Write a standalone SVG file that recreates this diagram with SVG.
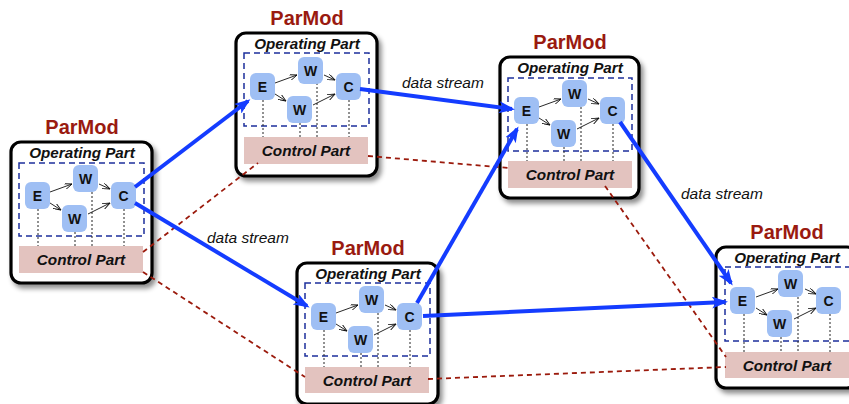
<svg xmlns="http://www.w3.org/2000/svg" width="849" height="404" viewBox="0 0 849 404">
  <style>
    .box { fill: #ffffff; stroke: #000000; stroke-width: 3.2; filter: url(#shadow); }
    .title { font-family: "Liberation Sans", Arial, sans-serif; font-weight: bold; font-size: 20px; fill: #9a1a10; text-anchor: middle; }
    .op { font-family: "Liberation Sans", Arial, sans-serif; font-weight: bold; font-style: italic; font-size: 15.2px; fill: #111111; text-anchor: middle; }
    .area { fill: none; stroke: #1c2f9c; stroke-width: 1.5; stroke-dasharray: 6 4; }
    .tap { stroke: #222222; stroke-width: 1; stroke-dasharray: 2 2; }
    .ctl { fill: #e3c3bf; }
    .ctl-t { font-family: "Liberation Sans", Arial, sans-serif; font-weight: bold; font-style: italic; font-size: 15.3px; fill: #111111; text-anchor: middle; }
    .node { fill: #9fbff4; }
    .lbl { font-family: "Liberation Sans", Arial, sans-serif; font-weight: bold; font-size: 14px; fill: #111111; text-anchor: middle; }
    .inner { stroke: #111111; stroke-width: 0.9; fill: none; marker-end: url(#open); }
    .flow { stroke: #143cff; stroke-width: 4; fill: none; marker-end: url(#barb); }
    .ctrl-link { stroke: #9b1a0c; stroke-width: 1.8; stroke-dasharray: 5 4; fill: none; }
    .ds { font-family: "Liberation Sans", Arial, sans-serif; font-style: italic; font-size: 15.5px; fill: #111111; }
  </style>
  <defs>
    <filter id="shadow" x="-10%" y="-10%" width="125%" height="125%">
      <feDropShadow dx="3" dy="4" stdDeviation="2.5" flood-color="#000000" flood-opacity="0.45"/>
    </filter>
    <marker id="barb" viewBox="0 0 16 12" refX="13" refY="6" markerWidth="16" markerHeight="12" markerUnits="userSpaceOnUse" orient="auto">
      <path d="M0,0 L16,6 L0,12 L4,6 z" fill="#143cff"/>
    </marker>
    <marker id="open" viewBox="0 0 8 6" refX="7.5" refY="3" markerWidth="8" markerHeight="6" markerUnits="userSpaceOnUse" orient="auto">
      <path d="M0,0 L7.5,3 L0,6" fill="none" stroke="#111111" stroke-width="0.9"/>
    </marker>
  </defs>

  <rect width="849" height="404" fill="#ffffff"/>

  <!-- ParMod modules: each drawn in its own coordinate frame -->
  <g id="parmod-1" transform="translate(11,142)">
    <text class="title" x="71" y="-8">ParMod</text>
    <rect class="box" x="0" y="0" width="141" height="141" rx="10"/>
    <text class="op" x="71" y="16">Operating Part</text>
    <rect class="area" x="8" y="21" width="125" height="73"/>
    <line class="tap" x1="27" y1="67" x2="27" y2="104"/>
    <line class="tap" x1="81" y1="50" x2="81" y2="104"/>
    <line class="tap" x1="64" y1="90" x2="64" y2="104"/>
    <line class="tap" x1="113" y1="67" x2="113" y2="104"/>
    <rect class="ctl" x="8" y="104" width="124" height="27"/>
    <text class="ctl-t" x="70" y="123">Control Part</text>
    <line class="inner" x1="39" y1="50" x2="61" y2="42"/>
    <line class="inner" x1="39" y1="61" x2="50" y2="68"/>
    <line class="inner" x1="88" y1="42" x2="99" y2="47"/>
    <line class="inner" x1="77" y1="72" x2="99" y2="61"/>
    <rect class="node" x="14" y="40" width="25" height="27" rx="6"/><text class="lbl" x="26.5" y="58.5">E</text>
    <rect class="node" x="62" y="23" width="25" height="27" rx="6"/><text class="lbl" x="74.5" y="41.5">W</text>
    <rect class="node" x="51" y="63" width="25" height="27" rx="6"/><text class="lbl" x="63.5" y="81.5">W</text>
    <rect class="node" x="100" y="40" width="25" height="27" rx="6"/><text class="lbl" x="112.5" y="58.5">C</text>
  </g>

  <g id="parmod-2" transform="translate(236,33)">
    <text class="title" x="71" y="-8">ParMod</text>
    <rect class="box" x="0" y="0" width="141" height="143" rx="10"/>
    <text class="op" x="71" y="16">Operating Part</text>
    <rect class="area" x="8" y="20" width="125" height="73"/>
    <line class="tap" x1="27" y1="67" x2="27" y2="104"/>
    <line class="tap" x1="81" y1="50" x2="81" y2="104"/>
    <line class="tap" x1="64" y1="90" x2="64" y2="104"/>
    <line class="tap" x1="113" y1="67" x2="113" y2="104"/>
    <rect class="ctl" x="8" y="104" width="124" height="27"/>
    <text class="ctl-t" x="70" y="123">Control Part</text>
    <line class="inner" x1="39" y1="50" x2="61" y2="42"/>
    <line class="inner" x1="39" y1="61" x2="50" y2="68"/>
    <line class="inner" x1="88" y1="42" x2="99" y2="47"/>
    <line class="inner" x1="77" y1="72" x2="99" y2="61"/>
    <rect class="node" x="14" y="40" width="25" height="27" rx="6"/><text class="lbl" x="26.5" y="58.5">E</text>
    <rect class="node" x="62" y="24" width="25" height="27" rx="6"/><text class="lbl" x="74.5" y="42.5">W</text>
    <rect class="node" x="51" y="63" width="25" height="27" rx="6"/><text class="lbl" x="63.5" y="81.5">W</text>
    <rect class="node" x="100" y="40" width="25" height="27" rx="6"/><text class="lbl" x="112.5" y="58.5">C</text>
  </g>

  <g id="parmod-3" transform="translate(500,57)">
    <text class="title" x="70" y="-8">ParMod</text>
    <rect class="box" x="0" y="0" width="139" height="141" rx="10"/>
    <text class="op" x="70" y="16">Operating Part</text>
    <rect class="area" x="8" y="21" width="124" height="73"/>
    <line class="tap" x1="27" y1="67" x2="27" y2="104"/>
    <line class="tap" x1="81" y1="50" x2="81" y2="104"/>
    <line class="tap" x1="64" y1="90" x2="64" y2="104"/>
    <line class="tap" x1="113" y1="67" x2="113" y2="104"/>
    <rect class="ctl" x="8" y="104" width="124" height="27"/>
    <text class="ctl-t" x="70" y="123">Control Part</text>
    <line class="inner" x1="39" y1="50" x2="61" y2="42"/>
    <line class="inner" x1="39" y1="61" x2="50" y2="68"/>
    <line class="inner" x1="88" y1="42" x2="99" y2="47"/>
    <line class="inner" x1="77" y1="72" x2="99" y2="61"/>
    <rect class="node" x="14" y="40" width="25" height="27" rx="6"/><text class="lbl" x="26.5" y="58.5">E</text>
    <rect class="node" x="62" y="23" width="25" height="27" rx="6"/><text class="lbl" x="74.5" y="41.5">W</text>
    <rect class="node" x="51" y="63" width="25" height="27" rx="6"/><text class="lbl" x="63.5" y="81.5">W</text>
    <rect class="node" x="100" y="40" width="25" height="27" rx="6"/><text class="lbl" x="112.5" y="58.5">C</text>
  </g>

  <g id="parmod-4" transform="translate(297,263)">
    <text class="title" x="71" y="-8">ParMod</text>
    <rect class="box" x="0" y="0" width="141" height="141" rx="10"/>
    <text class="op" x="71" y="16">Operating Part</text>
    <rect class="area" x="8" y="20" width="125" height="73"/>
    <line class="tap" x1="27" y1="67" x2="27" y2="104"/>
    <line class="tap" x1="81" y1="50" x2="81" y2="104"/>
    <line class="tap" x1="64" y1="90" x2="64" y2="104"/>
    <line class="tap" x1="113" y1="67" x2="113" y2="104"/>
    <rect class="ctl" x="8" y="104" width="124" height="26"/>
    <text class="ctl-t" x="70" y="123">Control Part</text>
    <line class="inner" x1="39" y1="50" x2="61" y2="42"/>
    <line class="inner" x1="39" y1="61" x2="50" y2="68"/>
    <line class="inner" x1="88" y1="42" x2="99" y2="47"/>
    <line class="inner" x1="77" y1="72" x2="99" y2="61"/>
    <rect class="node" x="14" y="40" width="25" height="27" rx="6"/><text class="lbl" x="26.5" y="58.5">E</text>
    <rect class="node" x="62" y="23" width="25" height="27" rx="6"/><text class="lbl" x="74.5" y="41.5">W</text>
    <rect class="node" x="51" y="63" width="25" height="27" rx="6"/><text class="lbl" x="63.5" y="81.5">W</text>
    <rect class="node" x="100" y="40" width="25" height="27" rx="6"/><text class="lbl" x="112.5" y="58.5">C</text>
  </g>

  <g id="parmod-5" transform="translate(716,247)">
    <text class="title" x="71" y="-8">ParMod</text>
    <rect class="box" x="0" y="0" width="141" height="141" rx="10"/>
    <text class="op" x="71" y="16">Operating Part</text>
    <rect class="area" x="9" y="20" width="125" height="74"/>
    <line class="tap" x1="28" y1="67" x2="28" y2="105"/>
    <line class="tap" x1="82" y1="50" x2="82" y2="105"/>
    <line class="tap" x1="65" y1="90" x2="65" y2="105"/>
    <line class="tap" x1="114" y1="67" x2="114" y2="105"/>
    <rect class="ctl" x="9" y="105" width="124" height="26"/>
    <text class="ctl-t" x="71" y="124">Control Part</text>
    <line class="inner" x1="40" y1="50" x2="62" y2="42"/>
    <line class="inner" x1="40" y1="61" x2="51" y2="68"/>
    <line class="inner" x1="89" y1="42" x2="100" y2="47"/>
    <line class="inner" x1="78" y1="72" x2="100" y2="61"/>
    <rect class="node" x="14" y="40" width="25" height="27" rx="6"/><text class="lbl" x="26.5" y="58.5">E</text>
    <rect class="node" x="62" y="23" width="25" height="27" rx="6"/><text class="lbl" x="74.5" y="41.5">W</text>
    <rect class="node" x="51" y="63" width="25" height="27" rx="6"/><text class="lbl" x="63.5" y="81.5">W</text>
    <rect class="node" x="100" y="40" width="25" height="27" rx="6"/><text class="lbl" x="112.5" y="58.5">C</text>
  </g>

  <!-- connectors: control links (dashed) and data streams (blue) -->
  <g id="connectors">
    <line class="ctrl-link" x1="143" y1="252" x2="258" y2="163"/>
    <line class="ctrl-link" x1="143" y1="272" x2="305" y2="377"/>
    <line class="ctrl-link" x1="368" y1="156" x2="509" y2="168"/>
    <line class="ctrl-link" x1="605" y1="186" x2="726" y2="357"/>
    <line class="ctrl-link" x1="428" y1="379" x2="726" y2="367"/>

    <line class="flow" x1="135" y1="187" x2="248" y2="101"/>
    <line class="flow" x1="135" y1="203" x2="307" y2="306"/>
    <line class="flow" x1="360" y1="89" x2="512" y2="109"/>
    <line class="flow" x1="417" y1="303" x2="517" y2="129"/>
    <line class="flow" x1="423" y1="316" x2="725" y2="302"/>
    <line class="flow" x1="620" y1="122" x2="731" y2="283"/>

    <text class="ds" x="207" y="243">data stream</text>
    <text class="ds" x="402" y="88">data stream</text>
    <text class="ds" x="681" y="199">data stream</text>
  </g>
</svg>
